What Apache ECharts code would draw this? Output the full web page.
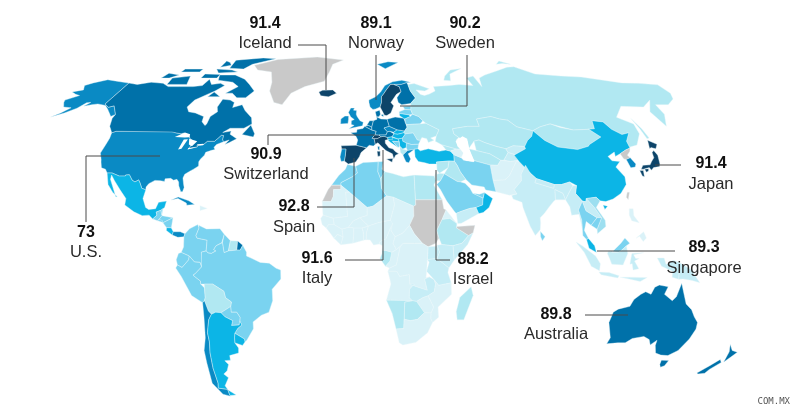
<!DOCTYPE html>
<html><head><meta charset="utf-8">
<style>html,body{margin:0;padding:0;background:#fff}#c{width:800px;height:416px}</style>
<script src="https://cdn.jsdelivr.net/npm/echarts@6/dist/echarts.min.js"></script>
</head><body><div id="c"></div>
<script>
// Called-out values
const calloutNames  = ["Iceland","Norway","Sweden","Switzerland","Spain","U.S.","Italy","Israel","Japan","Singapore","Australia"];
const calloutValues = ["91.4","89.1","90.2","90.9","92.8","73","91.6","88.2","91.4","89.3","89.8"];

// Colour classes
const classDarkest = ["Spain","Sweden","Italy","Iceland","Japan","Switzerland"];
const classDark    = ["Canada","Australia","New Zealand","Finland","France","Germany","Netherlands","Belgium","Austria","Poland","French Guiana","Denmark"];
const classMid     = ["USA","UK","Ireland","Norway","Portugal","Chile","South Korea","Czechia","Cuba","Greece","Panama"];
const classCyan    = ["China","Mexico","Argentina","Turkey","Oman","Hungary","Slovakia","Croatia","Slovenia","Serbia","Malaysia","Costa Rica","Uruguay","Lithuania"];
const classLight   = ["Brazil","Colombia","Venezuela","Peru","Ecuador","Guyana","Paraguay","Algeria","Morocco","Tunisia","Iran","Saudi Arabia","Thailand","Guatemala","Honduras","Belarus","Romania","Bulgaria","Estonia","Latvia","Bosnia","UAE","Belize","El Salvador","Nicaragua","Sri Lanka","Malaysia Borneo","Cambodia"];
const classMedium  = ["Vietnam"];
const classPale    = ["Russia","Kazakhstan","Bolivia","Mongolia","Ethiopia","Madagascar","Ukraine","Iraq","Syria","Egypt","Libya","Gabon","Namibia","Botswana","Suriname","Uzbekistan","Turkmenistan","Jordan","Georgia","Albania"];
const classSoft    = ["India","Myanmar","Nepal","Bangladesh","Laos","Indonesia","Zambia","Tanzania","Kenya","Uganda","Somalia","Yemen","Kyrgyzstan","Tajikistan","PNG"];
const classNoData  = ["Greenland","Sudan","North Korea","Somaliland","Taiwan","W Sahara"];
const classLakes   = ["Superior","Michigan","Huron","Erie","Ontario","Caspian"];
const classColors  = {darkest:"#0d4469",dark:"#0071a9",mid:"#0a8ac4",cyan:"#0cb5e6",light:"#7ad3f0",medium:"#9ddff0",pale:"#b1e8f2",soft:"#c6edf6",palest:"#daf2f8",nodata:"#c9c9c9",water:"#ffffff"};

// Simplified country outlines, [lon lat] rings
const outlines = {
USA:["-124.7,48.4 -123,49 -95.2,49 -94.6,48.7 -92,48.3 -89.6,48 -88.4,48.3 -84.8,46.8 -84,46 -82.5,45.3 -82.4,43 -83,42 -79,42.8 -79,43.3 -76.5,43.6 -75,45 -71.5,45 -70.3,46.2 -69.2,47.4 -68,47.3 -67.8,45.7 -67,44.8 -70,43.7 -70.8,42.6 -70,41.7 -71.5,41.4 -74,40.6 -74.2,39.5 -75.5,38 -76,36.9 -75.5,35.2 -77.5,34 -79,33.2 -81,32 -81.4,30.5 -80.5,28 -80,26.8 -80.4,25.2 -81.2,25.2 -82.6,27.5 -83,29 -84,30 -85.5,29.7 -87,30.4 -89.5,30.2 -89.5,29.2 -91.5,29.5 -94,29.6 -96.5,28.3 -97.4,27 -97.2,25.9 -99.2,26.5 -100.5,28.5 -101.5,29.8 -103,29 -104.5,29.7 -106.5,31.8 -108.2,31.7 -108.2,31.3 -111,31.3 -114.8,32.5 -117.1,32.5 -118.5,34 -120.6,34.5 -122,36.8 -122.5,37.8 -124.3,40.3 -124,44 -124,46.2",
"-141,69.6 -141,60.3 -137.5,58.9 -135,59.5 -130,55.9 -131.5,55 -134,56.5 -137,58.2 -140,59.7 -145,60.3 -148,60 -151.5,59.3 -150,61 -152,60.8 -154,58.5 -158,56.5 -163,54.8 -160,56.5 -157.5,58.7 -162,59 -165,61 -166,62 -161,64 -164,64.5 -168,65.6 -163,66.5 -166,68.5 -163,69.7 -157,71.2 -150,70.5"],
Canada:["-141,69.6 -135,69 -128,70 -120,69.5 -115,68 -108,68 -100,68 -95,68.5 -94,71.5 -90,69 -85,69.5 -81.5,68.5 -85,66 -87,65 -93,62 -94.5,59 -92,57 -88,56.5 -82.5,55 -82,52.9 -79.5,51.3 -79,52 -79,55 -76.5,57 -78,59 -77.5,62.4 -73,62 -70,61 -69.5,58.8 -65,60 -62,57.5 -57,54.5 -55.7,52 -59,50.2 -66,50.2 -69,48.5 -65,49.1 -65,47.8 -61,46 -64,44.5 -66,43.7 -64.5,45.5 -67,44.8 -67.8,45.7 -68,47.3 -69.2,47.4 -70.3,46.2 -71.5,45 -75,45 -76.5,43.6 -79,43.3 -79,42.8 -83,42 -82.4,43 -82.5,45.3 -84,46 -84.8,46.8 -88.4,48.3 -89.6,48 -92,48.3 -94.6,48.7 -95.2,49 -123,49 -124.7,48.4 -128,51 -130,54.3 -130,55.9 -135,59.5 -137.5,58.9 -141,60.3",
"-62,66 -65,63 -70,63 -74,65 -78,65 -73,68 -78,70 -88,71 -90,73.5 -80,73.5 -72,71.5 -67,69","-105,69 -117,69 -118,72 -108,73","-120,72 -125,72 -124,74.4 -116,73.5","-62,82.5 -72,83 -90,81.5 -88,77 -78,76.5 -75,79","-80,75 -92,74.5 -96,76.5 -85,76","-105,75 -117,75 -117,76.5 -105,76.5","-90,72 -100,72 -100,74 -90,73.8","-59,47.7 -53,46.7 -52.8,48 -56,51.5","-80,63.5 -87,63.5 -85,65.5","-92,80 -96,81 -95,77.5 -89,78.5"],
Greenland:["-73,78.5 -60,82 -32,83.6 -12,81.6 -19,79 -20,75 -22,70.5 -33,68 -40,65 -43,60 -48,61 -53,66 -54,70 -58,75 -68,76"],
Iceland:["-24,65.5 -22,66.4 -16,66.5 -13.6,65 -18,63.4 -22.5,63.9"],
Mexico:["-117.1,32.5 -114.8,32.5 -111,31.3 -108.2,31.3 -108.2,31.7 -106.5,31.8 -104.5,29.7 -103,29 -101.5,29.8 -100.5,28.5 -99.2,26.5 -97.2,25.9 -97.8,22.5 -96,19 -94.5,18.2 -91.5,18.5 -90.5,21 -87,21.5 -87.5,19 -88.2,18.5 -89,17.9 -91,17.2 -90.5,16 -92.2,14.5 -94,16 -97,15.8 -101,17.3 -105.5,20 -105.5,22.5 -109,26 -112.5,29.5 -114.7,31.7 -114.5,30 -110.2,23.2 -109.5,23.2 -112,25 -115,28"],
Guatemala:["-92.2,14.5 -90.5,16 -91,17.2 -89,17.9 -88.2,15.8 -89.3,14.4 -90,13.8"],
Belize:["-89,17.9 -88.2,18.5 -88.3,16"],
Honduras:["-89.3,14.4 -88.2,15.8 -83.2,15 -87.5,13"],
Nicaragua:["-87.5,13 -83.2,15 -83.6,11 -85.7,11.1"],
"Costa Rica":["-85.7,11.1 -83.6,11 -82.6,9.5 -83,8.2 -85.7,10"],
Panama:["-83,8.2 -82.6,9.5 -79.5,9.5 -77.4,8.7 -77.8,7.5 -80.5,7.3"],
"El Salvador":["-90,13.8 -89.3,14.4 -87.7,13.8 -87.7,13.2"],
Cuba:["-85,21.9 -82,23.1 -77,21.6 -74.2,20.2 -77.7,19.9 -78,20.7 -82,22.5"],
Dominican:["-71.7,19.7 -68.4,18.6 -71.5,17.8"],
Colombia:["-77.4,8.7 -75.5,10.7 -72,12.3 -71.3,11 -72.5,8 -72,7 -67.5,6.2 -67.8,2 -69.9,1.5 -69.5,-4.2 -70.5,-2.5 -73,-2.3 -75.2,0 -78.8,1.4 -77.8,3.5 -77.8,7.5"],
Venezuela:["-71.3,11 -71.5,12 -68,10.6 -62,10.7 -60,8.5 -61,5.2 -60.7,5.2 -63.5,4 -64.5,2.5 -63.5,2 -65.5,1 -67,1.2 -67.8,2 -67.5,6.2 -72,7 -72.5,8"],
Guyana:["-60,8.5 -57.2,6 -58,2 -59.9,1.3 -60.7,5.2 -61,5.2"],
Suriname:["-57.2,6 -54,5.9 -54.3,2.3 -58,2"],
"French Guiana":["-54,5.9 -51.7,4.2 -52.8,2.3 -54.3,2.3"],
Ecuador:["-80,1 -78.8,1.4 -75.2,0 -75.5,-1.5 -78.5,-4.5 -80.5,-3.5 -81,-1.5"],
Peru:["-81.3,-4.7 -80.5,-3.5 -78.5,-4.5 -75.5,-1.5 -75.2,0 -73,-2.3 -70.5,-2.5 -69.9,-4.3 -72.9,-7 -73.8,-7.5 -70.6,-9.8 -70.6,-11 -69,-12.5 -69,-16.3 -69.5,-17.5 -70.4,-18.3 -75,-15.5 -79,-8"],
Brazil:["-67,1.2 -65.5,1 -63.5,2 -64.5,2.5 -63.5,4 -60.7,5.2 -59.9,1.3 -58,2 -54.3,2.3 -52.8,2.3 -51.7,4.2 -50,1.5 -50,0 -48,-0.8 -44,-2.5 -40,-2.8 -37,-4.8 -35,-5.5 -35,-9 -37.5,-11.5 -39,-13 -39,-17.5 -41,-22 -44.5,-23.2 -48.5,-25.8 -48.7,-28.5 -52.5,-33 -53.5,-33.7 -53.5,-32.5 -57.5,-30.2 -55.8,-28.3 -53.8,-27 -54.5,-25.5 -54.2,-24 -55.5,-22 -58,-22 -58,-19.8 -57.5,-18 -60,-16.3 -60.5,-13.8 -65.3,-11 -69,-11 -70.6,-11 -70.6,-9.8 -73.8,-7.5 -72.9,-7 -69.9,-4.3 -69.5,-4.2 -69.9,1.5 -67.8,2"],
Bolivia:["-69,-12.5 -69,-11 -65.3,-11 -60.5,-13.8 -60,-16.3 -57.5,-18 -58,-19.8 -62.6,-22.2 -65,-22 -67,-22.8 -68.2,-21.5 -69.5,-17.5 -69,-16.3"],
Paraguay:["-58,-19.8 -58,-22 -55.5,-22 -54.2,-24 -54.5,-25.5 -55,-27 -58.5,-27.2 -57.7,-25.3 -61,-23.8 -62.6,-22.2"],
Uruguay:["-57.5,-30.2 -53.5,-32.5 -53.5,-33.7 -54.9,-35 -58.3,-34 -58,-32"],
Chile:["-70.4,-18.3 -69.5,-17.5 -68.2,-21.5 -67,-22.8 -68.5,-25 -70,-30 -70,-33.5 -71,-38 -71.8,-44 -72,-50 -73,-52 -68.5,-52.5 -68.6,-55.3 -72,-54.5 -75,-50 -74,-42 -73.5,-37 -71.5,-32 -70.5,-24"],
Argentina:["-65,-22 -62.6,-22.2 -61,-23.8 -57.7,-25.3 -58.5,-27.2 -55,-27 -54.5,-25.5 -53.8,-27 -55.8,-28.3 -57.5,-30.2 -58,-32 -58.3,-34 -57,-36 -57.5,-38 -62,-39 -62.2,-40.8 -65,-41 -63.7,-42.5 -65.3,-45 -67.5,-46.3 -65.8,-47.8 -69,-51 -68.5,-52.5 -73,-52 -72,-50 -71.8,-44 -71,-38 -70,-33.5 -70,-30 -68.5,-25 -67,-22.8","-68.5,-52.7 -65.2,-54.8 -68.6,-55"],
Spain:["-9.2,43.2 -1.8,43.4 3.2,42.4 0.5,40.5 -0.3,38.9 -2,36.8 -5.5,36 -7.4,37.2 -7,39.5 -6.8,41.9 -8.8,41.9"],
Portugal:["-8.8,41.9 -6.8,41.9 -7,39.5 -7.4,37.2 -8.9,37 -9.5,38.8"],
France:["-1.8,43.4 3.2,42.4 4.5,43.4 6.5,43.1 7.5,43.8 7,46 6,46.2 7.5,47.6 8.2,49 6,49.5 2.5,51 1.5,50.1 -1.5,49.7 -1.7,48.6 -4.7,48.4 -2,47 -1.1,45.5","8.6,42.9 9.5,42.9 9.3,41.4 8.7,41.7"],
Switzerland:["6,46.2 7,46 8.5,46 10.4,46.8 9.5,47.5 7.5,47.6"],
Italy:["7.5,43.8 8.8,44.4 10.5,42.9 12.5,41.3 15.5,40 16,38 16.6,38.9 17,39.5 18.5,40 16.8,41 16,41.9 14,42.4 12.4,44.2 12.4,45.4 13.8,45.7 13.7,46.5 12,47 10.4,46.8 8.5,46 7,46","12.5,38 15.6,38.2 15.1,36.7","8.2,41 9.7,41 9.6,39.2 8.5,39"],
Belgium:["2.5,51 4.3,51.4 6,50.7 6,49.5"],
Netherlands:["3.5,51.4 5,53.3 7,53.3 6,50.7 4.3,51.4"],
Germany:["6,50.7 7,53.3 8.9,53.9 8.7,54.9 11,54 14.2,53.9 15,51 12.2,50.3 13.8,48.8 13,47.5 10.4,47.5 9.5,47.5 7.5,47.6 8.2,49 6,49.5"],
Austria:["9.5,47.5 10.4,46.8 12,47 13.7,46.5 16,46.8 17,48 15,49 13.8,48.8 13,47.5 10.4,47.5"],
Czechia:["12.2,50.3 15,51 18.8,49.6 17,48.6 15,49 13.8,48.8"],
Slovakia:["17,48.6 18.8,49.6 22.5,49.1 22,48.4 18.8,47.8 17,48"],
Poland:["14.2,53.9 18.5,54.8 23,54.3 24,50.6 22.5,49.1 18.8,49.6 15,51"],
Hungary:["16,46.8 17,48 18.8,47.8 22,48.4 22.8,48 21,46.2 18.8,45.9"],
Denmark:["8.7,54.9 8.2,57 10.6,57.7 10.9,56 10,54.9","11,55.7 12.5,56 12.3,54.9"],
UK:["-5.7,50 1.3,51.2 1.7,52.7 0,53.3 -1.5,55 -2,56 -1.8,57.6 -3.5,57.7 -3,58.6 -5,58.6 -6.2,56.7 -4.8,54.8 -3,53.8 -4.5,53.3 -4.5,51.7 -3,51.4"],
Ireland:["-10,52 -6.2,52.2 -6,53.8 -6,55.2 -8,55.2 -10,54"],
Norway:["5,61 5.5,59 7,58 8.5,58.2 11,59 12,61 12.3,63.5 14,65 15.5,66.5 18.5,69 20.5,69 25,69 28.5,69.8 31,70 26,71 20,70.2 15,68.5 12,65.5 9,63.5 5,62","12,79 20,80.5 27,80 17,76.7"],
Sweden:["11,59 13,55.5 14.2,55.4 16.5,56.5 18.5,59.5 17.2,61 21,64.5 24,65.8 23.5,68 20.5,69 18.5,69 15.5,66.5 14,65 12.3,63.5 12,61"],
Finland:["24,65.8 21,63 21.3,61 23,60 28,60.5 31.5,62.9 29.5,66 29,69 28.5,69.8 25,69 20.5,69 23.5,68"],
Estonia:["23.5,59.2 28,59.5 27.5,57.8 24.3,58"],
Latvia:["21,57 24.3,58 27.5,57.8 28,56 26,55.7 21,56.3"],
Lithuania:["21,56.3 26,55.7 26.5,55 23.5,54 22.8,54.3 21,55.3"],
Belarus:["23.5,54 26.5,55 28,56 31,55 32.7,53.3 31,52 24,51.7 23.5,52.5"],
Ukraine:["24,50.6 24,51.7 31,52 34,52.3 40,49.6 38,47.1 35,46.3 36.5,45.4 33.5,44.5 33,46 30.7,46.5 29.7,45.3 28.2,45.5 26.7,48.3 22.8,48 22,48.4 22.5,49.1"],
Romania:["22.8,48 26.7,48.3 28.2,45.5 29.7,45.3 28.6,43.8 25,43.7 22.7,44.3 21,45 21,46.2"],
Bulgaria:["22.7,44.3 25,43.7 28.6,43.8 28,42 26.3,41.8 22.9,41.3 22.4,42.5"],
Serbia:["18.8,45.9 21,46.2 21,45 22.7,44.3 22.4,42.5 20.6,41.9 19.3,43 19.2,44.8"],
Croatia:["13.8,45.4 16,46.5 18.8,45.9 19.2,44.8 16,45 18.5,42.5 15,44.5"],
Bosnia:["16,45 19.2,44.8 19.3,43 18.5,42.5"],
Slovenia:["13.8,45.7 13.7,46.5 16,46.8 16,45.6"],
Albania:["19.3,43 20.6,41.9 22.9,41.3 20.5,39.6 19.4,40.5"],
Greece:["20.5,39.6 22.9,41.3 26.3,41.8 24,40.5 23,40 24,38 23,36.5 21.7,36.8 21,38.3"],
Turkey:["26.2,40 26.3,41.8 28,42 29,41.2 33,42 38,41 41.5,41.5 43.5,41.1 44.8,39.7 44.5,37.1 42,37.2 36,36.8 36,36 32.5,36 30.5,36.5 27.5,37 26.2,38.8"],
Russia:["28,60.5 31.5,62.9 29.5,66 29,69 33,69.4 41,67 38,66 33,66.5 35,64.4 37,64 40,64.6 44,66 44,68 54,68.5 60,69 68,68.5 67,72 72,73 73,68 75,72 80,73.5 90,75.5 100,77.5 105,77.7 113,74 128,73 140,72.5 160,69.7 170,69.5 180,68.8 180,65 177,62.5 170,60 163,60 162,56 156.7,51 155.7,57 163,62 155,59 143,59.3 135,54.7 141,52 140,48 135,43.5 131,42.7 130.7,42.3 131,45 135,48.4 131,47.7 127.5,49.8 126,52.8 120.8,53.3 119,50 116,49.8 108,49.5 98,52 92,50.8 87.3,49.2 80,50.8 77,53.5 73,54 69,55 61,54 61,51 55,51 47,50 47,48 49,46.5 47.5,45.5 47.5,43 48.5,41.8 46.5,41.9 40,43.5 37,45 38,47.1 40,49.6 34,52.3 32.7,53.3 31,55 28,56 27.5,57.8 28,59.5","52,71 56,70.7 58,74 68,76.8 60,76 54,73","142,54.3 143,50 143.3,46.3 142,46 142,50","95,79 100,79.5 105,79 100,81"],
Kazakhstan:["47,50 55,51 61,51 61,54 69,55 73,54 77,53.5 80,50.8 87.3,49.2 85.5,47 82.5,45.3 80,42.9 74.5,43.2 70.5,42 66,43 61,44.5 58.6,45.5 56,45 52.5,42 52.8,45 49,46.5 47,48"],
Uzbekistan:["56,45 58.6,45.5 61,44.5 66,43 70.5,42 71,40.5 68,37.5 66.5,37.5 62,40 56,41.3"],
Turkmenistan:["52.5,42 56,41.3 62,40 66.5,37.5 64.5,35.5 61,35.6 54,37.3 53,39.5"],
Kyrgyzstan:["70.5,42 74.5,43.2 80,42.9 80,42 74,39.7 71,40.5"],
Tajikistan:["68,37.5 71,40.5 74,39.7 75,37.5 71,37"],
Afghanistan:["61,35.6 64.5,35.5 66.5,37.5 71,37 74,37.3 71.5,34.5 69,31.5 66.5,29.8 61,29.6"],
Pakistan:["61,29.6 66.5,29.8 69,31.5 71.5,34.5 74,37.3 77.5,35.5 74.5,32 74,29.5 70,26 71,24.3 67.5,23.8 61.6,25.2"],
Iran:["44.8,39.7 48,38.5 49,37.5 53.5,36.9 54,37.3 61,35.6 61,29.6 61.6,25.2 57,25.8 56.5,27 51,27.8 48.5,30 46.5,33 45.5,35.5 44.5,37.1"],
Iraq:["42,37.2 44.5,37.1 45.5,35.5 46.5,33 48.5,30 46,29 44.5,29.2 39,32.2 41,34.5"],
Syria:["36,36.8 42,37.2 41,34.5 36.8,32.4 35.8,33.5 36,36"],
Israel:["34.3,31.3 35.5,33.2 35.6,32 34.9,29.5"],
Jordan:["35,29.5 36.8,29.4 39,32.2 36.8,32.4 35.6,32"],
Georgia:["40,43.5 46.5,41.9 43.5,41.1 41.5,41.5"],
Azerbaijan:["43.5,41.1 46.5,41.9 48.5,41.8 49.5,40.3 48,38.5 44.8,39.7"],
"Saudi Arabia":["35,28 36.8,29.4 39,32.2 44.5,29.2 46,29 48,28.5 50,26.5 51,24.6 55.5,22.7 55,20 52,19 49,18.6 45,17.4 43,16.7 42.5,17 39,21.5 36.5,26"],
Yemen:["43,16.7 45,17.4 49,18.6 52,19 53,16.6 45,12.8 43.4,12.7"],
Oman:["55.5,22.7 56.3,24.9 59.8,22.5 57.8,19 55,17 53,16.6 52,19 55,20"],
UAE:["51,24.6 54,24.2 56.3,24.9 55.5,22.7"],
Mongolia:["87.3,49.2 92,50.8 98,52 102,50.5 108,49.5 116,49.8 119.7,46.7 112,43.7 111,43 105,41.7 96,42.7 91,45.3"],
China:["73.5,39.5 80,42 80,42.9 82.5,45.3 85.5,47 87.3,49.2 91,45.3 96,42.7 105,41.7 111,43 112,43.7 119.7,46.7 116,49.8 119,50 120.8,53.3 126,52.8 127.5,49.8 131,47.7 135,48.4 131,45 130.7,42.3 128,41.5 124.3,40 121.5,39 122,40.7 118,39 119,37.3 122.5,37 119.5,34.8 122,31 121.5,28 118,24.5 114,22.3 110.5,21.3 108,21.6 106.5,23 102,22.5 101.5,21.2 100,21.5 97.5,24.5 98.7,27.6 96,29 92,28 88.7,28 81,30.3 78.8,32.5 75,37","109,20 111,19.5 109.5,18.2"],
Taiwan:["121,25 122,25 120.8,22 120.1,23"],
"North Korea":["124.3,40 128,41.5 130.7,42.3 129.7,41 127.5,39.5 128.3,38.5 126,37.8 125,38"],
"South Korea":["126,37.8 128.3,38.5 129.5,36 128.5,34.8 126.3,34.5"],
Japan:["130.9,34 132.5,35.5 136,35.7 137.5,37 139.5,38.5 140,40.5 141.4,41.3 142,39.5 140.8,36 140,35 137,34.6 135.5,33.6 135,34.6 132,34","130,33.5 131.7,33.5 131,31 130.2,31.3","132.5,34 134.5,34.2 134,33.3 132.8,32.8","140,42 141.7,45.4 145,43.8 143,42 141,42.5"],
India:["68.5,23.7 71,24.3 70,26 74,29.5 74.5,32 77.5,35.5 78.8,32.5 81,30.3 80,28.7 88,26.5 88.7,28 92,28 96,29 97,27.5 94,24 92.5,22 91.8,24.5 88.5,26 88,22 87,21.3 85,19.5 82.3,16.7 80.2,15 80.2,13 79.8,10.3 77.5,8 75.5,11.5 73,19 72.8,21 69,22.3"],
Nepal:["80,28.7 81,30.3 88.7,28 88,26.5"],
Bangladesh:["88,22 88.5,26 91.8,24.5 92.5,22 90,22"],
Myanmar:["92.5,22 94,24 97,27.5 98.7,27.6 97.5,24.5 100,21.5 97.7,18 98.6,14 98.6,10 97.7,16.3 94.3,16 94,19.3"],
Thailand:["97.7,18 100,21.5 101,17.7 105.5,15 102.5,12 100.5,13.5 99.3,10 101,6.8 100,6.5 98.5,8 98.6,14"],
Laos:["100,21.5 101.5,21.2 102,22.5 105,19 107.5,15 105.5,15 101,17.7"],
Vietnam:["102,22.5 106.5,23 108,21.6 105.8,19 109,14 109,11.5 105,8.7 105,10.5 107.5,15 105,19"],
Cambodia:["102.5,12 105.5,15 107.5,15 105,10.5"],
Malaysia:["100,6.5 101,6.8 103.5,4 104.2,1.4 101,3"],
"Malaysia Borneo":["109.6,2 111,1.5 115,4.9 117,7 119,5 117.5,4 115,2 114,1.5"],
Indonesia:["109,1 109.6,2 111,1.5 114,1.5 115,2 117.5,4 118,1 116,-3.5 111,-3.2 110,-1","95.3,5.5 98,4 103.8,0 106,-3 105.7,-5.8 102,-4 98.8,1.5","105.5,-6.3 110,-6.5 114.5,-7.7 114,-8.6 106.5,-7.3","119.8,1 125,1.3 120.5,0.5 121.5,-1 123,-1 121,-2 123,-5 120.5,-5.5 120,-3 119,-3.2","131,-0.8 134,-0.8 135,-3.3 138,-1.7 141,-2.6 141,-9.1 138,-8.3 138,-6 133,-4","115,-8.3 119,-8.3 125,-8.4 127,-8.4 124,-10 119,-9"],
PNG:["141,-2.6 147,-5.8 147.5,-7 150.5,-10.5 147,-9.6 143,-9 141,-9.1"],
Philippines:["120.5,18.5 122.2,18.5 122,15.8 124,13 120.8,13.8 120,16","122,7 125.5,9.5 126.5,7 125,5.7 123.5,7.7"],
"Sri Lanka":["79.8,9.7 81.8,7.5 80.5,6 79.8,7.5"],
Australia:["114,-22 116,-20.8 121,-19.7 122.3,-17 125,-15 127,-14 129.5,-15 130.8,-12.2 132.7,-11.4 136.7,-12 135.5,-15 139.5,-17.5 141,-16 142.5,-10.7 144,-14.5 146,-18.8 149,-21 151,-23.8 153.2,-26 153.6,-28.6 152.5,-32.5 150,-37 146.5,-39 143,-38.8 140,-38 138,-35 137.8,-33 135.5,-34.8 134,-32.7 131,-31.5 126,-32.3 123.5,-34 120,-34 115,-34.4 115.7,-32 113,-26 113.8,-23","144.7,-40.8 148.3,-40.9 148,-43 146.5,-43.6 145.3,-42.5"],
"New Zealand":["172.7,-34.5 175.5,-37 178.5,-37.7 177,-39.5 175.3,-41.6 174.8,-39.8 174.5,-37.5","172.7,-40.5 174.3,-41.7 171.2,-44.5 170.5,-46 167.5,-46.3 166.5,-45.9 170,-43"],
Morocco:["-5.9,35.8 -2,35.1 -1.2,32.5 -3.5,31 -8.7,28.7 -8.7,27.7 -13,27.7 -9.8,31.5 -6.8,34"],
"W Sahara":["-13,27.7 -8.7,27.7 -8.7,26 -12,26 -12,23.4 -13,21.3 -17,21.3 -14.5,26"],
Algeria:["-2,35.1 1.5,36.6 8.6,36.9 8.3,33 9.5,30.2 9.8,26.5 12,23.5 5.8,19.5 3.2,19 -4.8,25 -8.7,27.7 -8.7,28.7 -3.5,31 -1.2,32.5"],
Tunisia:["8.6,36.9 11,37 10.2,34 11.5,33 9.5,30.2 8.3,33"],
Libya:["11.5,33 15,32.3 20,31 25,31.7 25,20 24,19.5 15,23 12,23.5 9.8,26.5 9.5,30.2"],
Egypt:["25,31.7 34.2,31.3 34.9,29.5 33.7,27.8 37,22 25,22"],
Mauritania:["-17,21.3 -13,21.3 -12,23.4 -12,26 -8.7,26 -8.7,27.7 -4.8,25 -6.5,25 -5.5,15.5 -12,14.8 -16.5,16"],
Mali:["-4.8,25 3.2,19 3.2,15.9 0,15 -3,13.7 -5.2,11.2 -8,10.5 -11.5,12.3 -12,14.8 -5.5,15.5 -6.5,25"],
Niger:["3.2,19 5.8,19.5 12,23.5 15,23 15.5,20 13.5,14 8,13 3.7,11.7 0,15 3.2,15.9"],
Chad:["15,23 24,19.5 24,15.7 22,12 19,9 15.5,7.5 13.7,10 13.5,14 15.5,20"],
Sudan:["24,19.5 25,20 25,22 37,22 37.5,18.5 38.5,18 36.5,14.3 34,10 34.9,7 33.5,5 30,3.6 27.5,5 24,8.7 22,12 24,15.7"],
Eritrea:["36.5,14.3 38.5,18 43,12.7 40,14.7"],
Ethiopia:["34,10 36.5,14.3 40,14.7 43,12.7 42.8,11 48,8 45,5 41,4 36,4.5 34.9,7"],
Somaliland:["43,11.5 51,12 50,9 48,8 42.8,11"],
Somalia:["50,9 47.5,4.5 41.5,-1.7 41,4 45,5 48,8"],
Kenya:["34,4.2 36,4.5 41,4 41.5,-1.7 39.2,-4.7 33.9,-1 35,1.5"],
Uganda:["30,3.6 33.5,3.8 34,4.2 35,1.5 33.9,-1 29.7,-1.4"],
Tanzania:["33.9,-1 39.2,-4.7 38.8,-6.5 40.4,-10.5 34.9,-11.5 32.8,-9.3 29.4,-6 30.5,-2.4 29.7,-1.4"],
DRC:["12.3,-6 13,-4.7 16,-3.5 17.7,3.7 19,5 24,5 27.5,5 30,3.6 29.7,-1.4 29.4,-6 29.2,-8.5 30.7,-8.2 28.6,-9 29.9,-13.4 25,-12 22,-11 21.8,-7.3 17.5,-8 16.3,-6"],
CAR:["14.5,5 15.5,7.5 19,9 22,12 24,8.7 27.5,5 24,5 19,5 17.7,3.7 16,2.5"],
Congo:["11.2,-4 13,-4.7 16,-3.5 17.7,3.7 16,2.5 14,1.5 13.2,-2"],
Gabon:["8.8,-1 9.7,1 9.7,2.3 11.3,2.2 14,1.5 13.2,-2 11.2,-4"],
Cameroon:["8.5,4.7 10,4 9.7,2.3 11.3,2.2 14,1.5 16,2.5 14.5,5 15.5,7.5 13.7,10 14.5,12.8 13,10 11.5,6.8 8.8,5.7"],
Nigeria:["2.7,6.4 4.5,6.3 6,4.3 8.5,4.7 8.8,5.7 11.5,6.8 13,10 14.5,12.8 13.5,14 8,13 3.7,11.7 2.8,9"],
Benin:["1.6,6.2 2.7,6.4 2.8,9 3.7,11.7 0.9,11 1.5,9"],
Ghana:["-3.2,5 1.6,6.2 1.5,9 0.9,11 -2.8,11 -2.8,8"],
Burkina:["-5.2,11.2 -2.8,11 0.9,11 3.7,11.7 0,15 -3,13.7"],
Ivory:["-8.5,4.4 -3.2,5 -2.8,8 -2.8,11 -5.2,11.2 -8,10.5 -7.5,7.5"],
Liberia:["-11.5,6.9 -8.5,4.4 -7.5,7.5 -10,8.5"],
Guinea:["-15,11 -13.2,9 -11.5,6.9 -10,8.5 -7.5,7.5 -8,10.5 -11.5,12.3 -14,12.3"],
Senegal:["-16.5,16 -12,14.8 -11.5,12.3 -14,12.3 -15,11 -16.8,12.3 -17.5,14.7"],
Angola:["12.3,-6 16.3,-6 17.5,-8 21.8,-7.3 22,-11 24,-11 22,-13 22,-16.3 23.4,-17.5 13.5,-17.3 11.8,-17.3 13.7,-11 13.2,-9"],
Zambia:["22,-11 25,-12 29.9,-13.4 28.6,-9 30.7,-8.2 32.8,-9.3 33.5,-11 33,-14 30.3,-15.6 28,-16.3 25.3,-17.8 23.4,-17.5 22,-16.3 22,-13 24,-11"],
Mozambique:["34.9,-11.5 40.4,-10.5 40.7,-15 35,-20 35.5,-24 32.9,-26 32,-24.5 32,-22.3 33,-20 30.3,-15.6 33,-14 33.5,-11 32.8,-9.3"],
Zimbabwe:["25.3,-17.8 28,-16.3 30.3,-15.6 33,-20 32,-22.3 29,-22.2"],
Botswana:["20,-18 23.4,-17.5 25.3,-17.8 29,-22.2 26,-24.8 23,-25.3 20,-24.8"],
Namibia:["11.8,-17.3 13.5,-17.3 23.4,-17.5 20,-18 20,-28.4 16.5,-28.6 14.5,-22.5"],
"South Africa":["16.5,-28.6 20,-28.4 20,-24.8 23,-25.3 26,-24.8 29,-22.2 32,-22.3 32,-24.5 32.9,-26 31,-30 26,-33.8 20,-34.8 18.3,-34"],
Madagascar:["49.3,-12 50.4,-15.5 47,-25 44,-25 43.3,-21.8 44.5,-16.2"],
Superior:["-92,46.7 -88,48.5 -85,47.8 -84.7,46.6 -87,46.5"],
Michigan:["-87.8,41.7 -86.3,42 -85,45.8 -87,45.7"],
Huron:["-84.5,46 -80,45 -81.7,43 -83.5,43.7"],
Erie:["-83.3,41.7 -79,42.7 -79,42.9 -83,42.3"],
Ontario:["-79.7,43.3 -76.2,43.5 -76.5,44 -79.3,43.8"],
Caspian:["47,45 51,47 53,46 52.8,42 53.5,39 53.9,36.9 50,37.3 49,38.5 49.6,40.5 47.5,43"]
};

// Robinson projection tables, fitted to the picture
const latStep = 5;
const robX = [1,.9986,.9954,.99,.9822,.973,.96,.9427,.9216,.8962,.8679,.835,.7986,.7597,.7186,.6732,.6213,.5722,.5322];
const robY = [0,.062,.124,.186,.248,.31,.372,.434,.4958,.5571,.6176,.6769,.7346,.7903,.8435,.8936,.9394,.9761,1];
const view = {cx:360, k:2.27, cy:256, ky:206};
function lerp(t,a){const v=Math.min(Math.abs(a)/latStep,17.999),i=Math.floor(v);return t[i]+(t[i+1]-t[i])*(v-i);}
function project(p){const lon=p[0],lat=p[1];return [view.cx+lon*view.k*lerp(robX,lat),view.cy-Math.sign(lat)*view.ky*lerp(robY,lat)];}
function unproject(q){const yn=Math.abs(view.cy-q[1])/view.ky;let i=0;while(i<17&&robY[i+1]<yn)i++;const lat=(i+(yn-robY[i])/(robY[i+1]-robY[i]))*latStep*(q[1]>view.cy?-1:1);return [(q[0]-view.cx)/(view.k*lerp(robX,lat)),lat];}

const ring = s => { const r = s.split(" ").map(c=>c.split(",").map(Number)); r.push(r[0]); return r; };
const features = Object.keys(outlines).map(name=>({type:"Feature",properties:{name},geometry:{type:"MultiPolygon",coordinates:outlines[name].map(s=>[ring(s)])}}));
echarts.registerMap("world",{geoJSON:{type:"FeatureCollection",features}});

let bx0=1e9,by0=1e9,bx1=-1e9,by1=-1e9;
features.forEach(f=>f.geometry.coordinates.forEach(pg=>pg[0].forEach(pt=>{const q=project(pt);bx0=Math.min(bx0,q[0]);bx1=Math.max(bx1,q[0]);by0=Math.min(by0,q[1]);by1=Math.max(by1,q[1]);})));

const colorOf = {};
[[classDarkest,"darkest"],[classDark,"dark"],[classMid,"mid"],[classCyan,"cyan"],[classLight,"light"],[classMedium,"medium"],[classPale,"pale"],[classSoft,"soft"],[classNoData,"nodata"],[classLakes,"water"]]
  .forEach(([list,key])=>list.forEach(n=>colorOf[n]=classColors[key]));
const seriesData = features.map(f=>{
  const n=f.properties.name, c=colorOf[n]||classColors.palest;
  const water=classLakes.includes(n);
  return {name:n,value:1,itemStyle:{areaColor:c,borderColor:water?"#ffffff":"#eaf7fb",borderWidth:water?0:0.4}};
});

// Callout layout: text centre x, value y, name y, leader line points
const calloutLayout = [
 {x:265,y1:24,y2:43,line:[[298,45],[326,45],[326,90]]},
 {x:376,y1:24,y2:43,line:[[376,55],[376,100]]},
 {x:465,y1:24,y2:43,line:[[467,55],[467,106],[400,106]]},
 {x:266,y1:155,y2:174,line:[[268,145],[268,135],[375,135]]},
 {x:294,y1:207,y2:227,line:[[317,207],[354,207],[354,158]]},
 {x:86,y1:233,y2:252,line:[[86,222],[86,156],[160,156]]},
 {x:317,y1:259,y2:278,line:[[345,260],[383,260],[383,150]]},
 {x:473,y1:260,y2:279,line:[[450,260],[436,260],[436,170]]},
 {x:711,y1:164,y2:184,line:[[681,165],[655,165]]},
 {x:704,y1:248,y2:268,line:[[675,251],[597,251]]},
 {x:556,y1:315,y2:334,line:[[585,315],[628,315]]}
];
const font = '"Liberation Sans",Arial,sans-serif';
const graphics = [];
calloutNames.forEach((n,i)=>{
  const L=calloutLayout[i];
  graphics.push({type:"polyline",silent:true,z:50,shape:{points:L.line},style:{stroke:"#4a4a4a",lineWidth:1,fill:null}});
  graphics.push({type:"text",silent:true,z:51,x:L.x,y:L.y1,style:{text:calloutValues[i],font:"bold 16px "+font,fill:"#111",textAlign:"center",textVerticalAlign:"middle"}});
  graphics.push({type:"text",silent:true,z:51,x:L.x,y:L.y2,style:{text:n,font:"16.5px "+font,fill:"#2a2a2a",textAlign:"center",textVerticalAlign:"middle"}});
});
graphics.push({type:"text",silent:true,z:51,x:790,y:402,style:{text:"COM.MX",font:'9px "DejaVu Sans Mono",monospace',fill:"#555",textAlign:"right",textVerticalAlign:"middle"}});

const chart = echarts.init(document.getElementById("c"),null,{renderer:"canvas"});
chart.setOption({
  animation:false,backgroundColor:"#fff",
  graphic:graphics,
  series:[{type:"map",map:"world",silent:true,roam:false,
    projection:{project,unproject},
    left:bx0,top:by0,width:bx1-bx0,height:by1-by0,
    label:{show:false},emphasis:{disabled:true},select:{disabled:true},
    itemStyle:{areaColor:classColors.palest,borderColor:"#eaf7fb",borderWidth:0.4},
    data:seriesData}]
});
</script></body></html>
